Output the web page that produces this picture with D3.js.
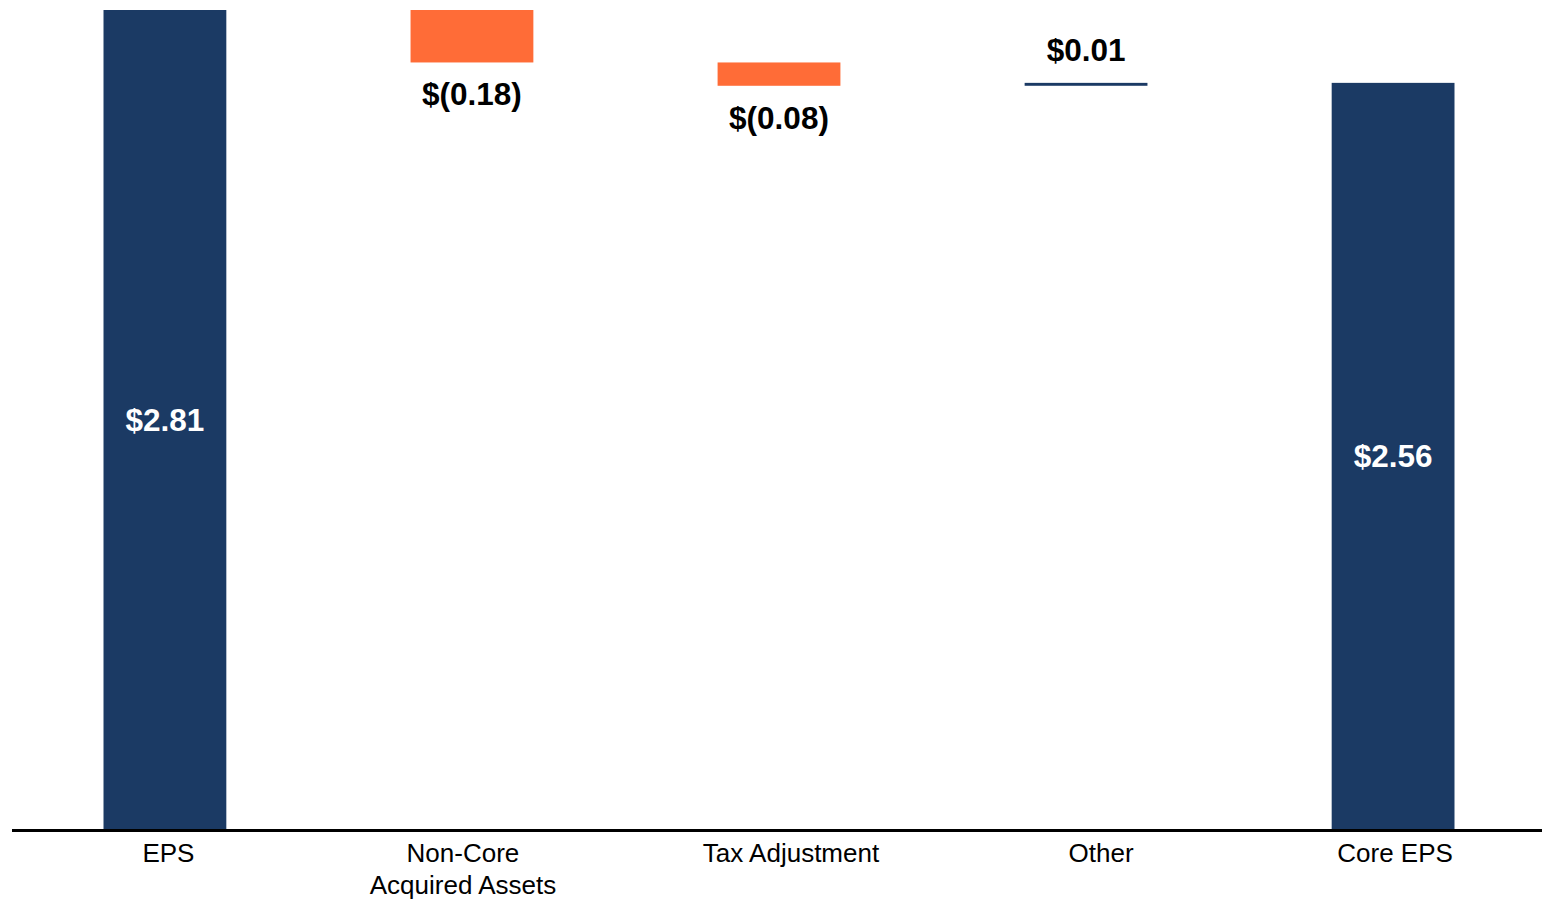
<!DOCTYPE html>
<html>
<head>
<meta charset="utf-8">
<script src="https://cdn.jsdelivr.net/npm/d3@7"></script>
<style>
  body { margin: 0; background: #fff; }
  svg { display: block; font-family: "Liberation Sans", Arial, sans-serif; }
</style>
</head>
<body>
<script>
// chart data
var categories = ["EPS", "Non-Core|Acquired Assets", "Tax Adjustment", "Other", "Core EPS"];
var values = [2.81, -0.18, -0.08, 0.01, 2.56];
var isTotal = [true, false, false, false, true];

var width = 1542;
var height = 900;
var baseY = 829;
var navy = "#1b3a64";
var orange = "#ff6c37";
// category text boxes in the original sit a little off the bar centres
var labelShift = [3.5, -9, 12, 15, 2];

// build waterfall steps from the running sum
var running = 0;
var steps = categories.map(function(c, i) {
    var s;
    if (isTotal[i]) {
        s = {name: c, lo: 0, hi: values[i], value: values[i], total: true};
        running = values[i];
    } else {
        var start = running;
        running = running + values[i];
        s = {name: c, lo: Math.min(start, running), hi: Math.max(start, running), value: values[i], total: false};
    }
    return s;
});

var svg = d3.select("body").append("svg")
    .attr("width", width)
    .attr("height", height);

var x = d3.scaleBand()
    .domain(categories)
    .range([14, 1544])
    .paddingInner(0.6)
    .paddingOuter(0.2915);

var y = d3.scaleLinear()
    .domain([0, 2.81])
    .range([baseY, 10]);

var fmt = d3.format(".2f");
function money(v) {
    return v < 0 ? "$(" + fmt(-v) + ")" : "$" + fmt(v);
}

// bars
svg.append("g")
    .selectAll("rect")
    .data(steps)
    .enter()
    .append("rect")
    .attr("x", function(d) { return x(d.name); })
    .attr("width", x.bandwidth())
    .attr("y", function(d) { return y(d.hi); })
    .attr("height", function(d) { return Math.max(y(d.lo) - y(d.hi), 0); })
    .style("fill", function(d) {
        if (d.total || d.value > 0) return navy;
        return orange;
    });

// value labels
svg.append("g")
    .selectAll("text")
    .data(steps)
    .enter()
    .append("text")
    .attr("x", function(d) { return x(d.name) + x.bandwidth() / 2; })
    .attr("y", function(d) {
        if (d.total) return (y(d.hi) + y(d.lo)) / 2 + 11;
        if (d.value < 0) return y(d.lo) + 43;
        return y(d.hi) - 22;
    })
    .attr("text-anchor", "middle")
    .style("font-size", "31.5px")
    .style("font-weight", "bold")
    .style("fill", function(d) { return d.total ? "#fff" : "#000"; })
    .text(function(d) { return money(d.value); });

// baseline
svg.append("line")
    .attr("x1", 12)
    .attr("x2", width)
    .attr("y1", baseY + 1.5)
    .attr("y2", baseY + 1.5)
    .style("stroke", "#000")
    .style("stroke-width", 3);

// category labels
var cat = svg.append("g")
    .selectAll("text")
    .data(categories)
    .enter()
    .append("text")
    .attr("text-anchor", "middle")
    .attr("y", 862)
    .style("font-size", "26px")
    .style("fill", "#000");

cat.selectAll("tspan")
    .data(function(d, i) { return d.split("|").map(function(t) { return {t: t, c: d, i: i}; }); })
    .enter()
    .append("tspan")
    .attr("x", function(d) { return x(d.c) + x.bandwidth() / 2 + labelShift[d.i]; })
    .attr("dy", function(d, i) { return i ? 31.5 : 0; })
    .text(function(d) { return d.t; });
</script>
</body>
</html>
